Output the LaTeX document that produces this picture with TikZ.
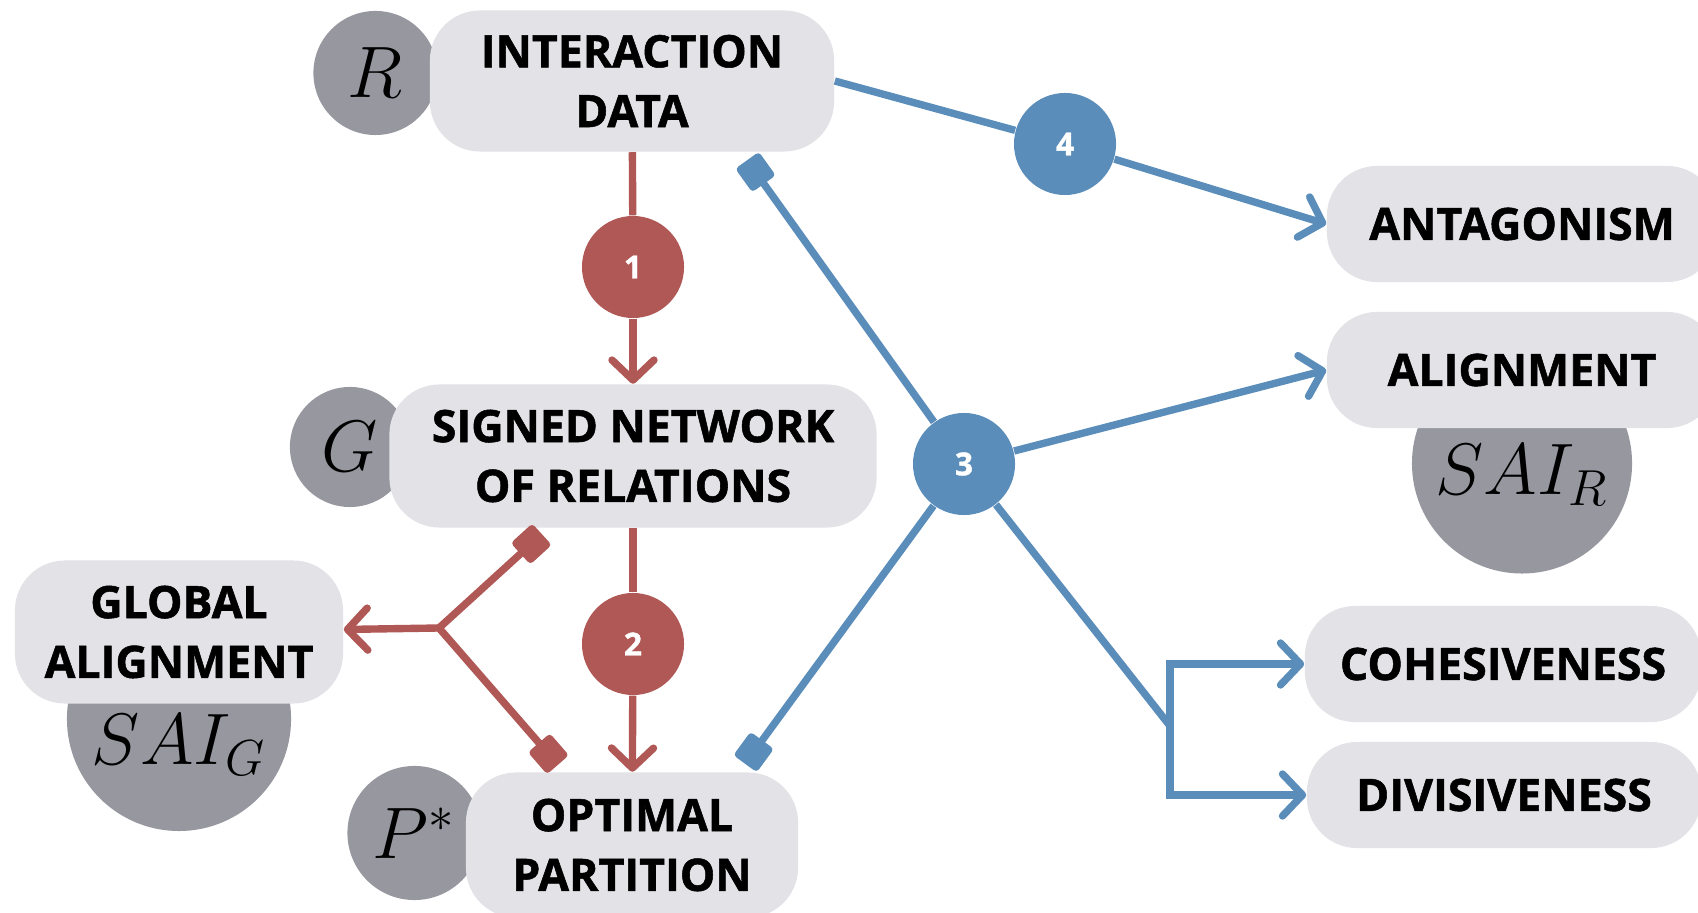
\documentclass[tikz,border=0pt]{standalone}
\usepackage{fontspec}
\setmainfont{Open Sans}[BoldFeatures={FakeBold=1.2}]
\usepackage{xcolor}
\usepackage{tikz}
\usetikzlibrary{arrows.meta, positioning, calc, backgrounds}
\definecolor{boxgray}{RGB}{226,226,231}
\definecolor{discgray}{RGB}{151,151,160}
\definecolor{stepred}{RGB}{176,88,86}
\definecolor{stepblue}{RGB}{91,141,186}
\tikzset{
  termbox/.style={fill=boxgray, rounded corners=0.5cm, align=center, inner sep=0pt,
    font=\fontsize{12.7}{17}\selectfont\bfseries},
  mathdisc/.style={circle, fill=discgray, inner sep=0pt, font=\fontsize{21}{24}\selectfont},
  redstep/.style={circle, fill=stepred, minimum size=1.02cm, inner sep=0pt, text=white,
    font=\fontsize{9}{10}\selectfont\bfseries},
  bluestep/.style={redstep, fill=stepblue},
  redline/.style={draw=stepred, line width=2.1pt},
  blueline/.style={draw=stepblue, line width=2.1pt},
  redarrow/.style={redline, -{Straight Barb[length=2mm, width=4.2mm, round]}},
  bluearrow/.style={blueline, -{Straight Barb[length=2mm, width=4.2mm, round]}},
  marker/.style={{Square[length=2.9mm, width=2.9mm, round]}-}
}

\begin{document}
\begin{tikzpicture}[x=0.01cm, y=-0.01cm]
      \useasboundingbox (0,0) rectangle (1698,913);

      % === Main chain ===
      \node[termbox, minimum width=4.04cm, minimum height=1.41cm] (data) at (632,81) {INTERACTION\\DATA};
      \node[termbox, minimum width=4.87cm, minimum height=1.43cm] (signed) at (633,456) {SIGNED NETWORK\\OF RELATIONS};
      \node[termbox, minimum width=3.32cm, minimum height=1.45cm] (optimal) at (632,845) {OPTIMAL\\PARTITION};
      \node[termbox, minimum width=3.28cm, minimum height=1.43cm] (global) at (179,632) {GLOBAL\\ALIGNMENT};

      \node[redstep] (s1) at (633,267) {1};
      \node[redstep] (s2) at (633,644) {2};
      \node[bluestep] (s3) at (964,464) {3};
      \node[bluestep] (s4) at (1065,144) {4};

      % === Outcomes ===
      \node[termbox, minimum width=3.9cm, minimum height=1.16cm] (antag) at (1522,224) {ANTAGONISM};
      \node[termbox, minimum width=3.9cm, minimum height=1.16cm] (alignr) at (1522,370) {ALIGNMENT};
      \node[termbox, minimum width=3.96cm, minimum height=1.16cm] (cohes) at (1503,664) {COHESIVENESS};
      \node[termbox, minimum width=3.94cm, minimum height=1.06cm] (divis) at (1504,795) {DIVISIVENESS};

      % symbols sit behind the boxes
      \begin{scope}[on background layer]
        \node[mathdisc, minimum size=1.24cm, left=-0.09cm of data, yshift=0.08cm] (rdisc) {$R$};
        \node[mathdisc, minimum size=1.2cm, left=-0.22cm of signed, yshift=0.09cm] (gdisc) {$G$};
        \node[mathdisc, minimum size=1.34cm, left=-0.17cm of optimal, yshift=0.12cm] (pdisc) {$P^{*}$};
        \node[mathdisc, minimum size=2.24cm, below=-0.98cm of global,
              label={[font=\fontsize{21}{24}\selectfont, yshift=-0.26cm]center:$SAI_G$}] (saig) {};
        \node[mathdisc, minimum size=2.2cm, below=-0.76cm of alignr,
              label={[font=\fontsize{21}{24}\selectfont, yshift=-0.12cm]center:$SAI_R$}] (sair) {};
      \end{scope}

      % === Steps 1 and 2 ===
      \draw[redline] (data) -- (s1);
      \draw[redarrow] (s1) -- (signed);
      \draw[redline] (signed) -- (s2);
      \draw[redarrow] (s2) -- (optimal);

      \coordinate (gsplit) at (439,628);
      \draw[redline, marker] ([xshift=-0.91cm, yshift=-0.06cm]signed.south) -- (gsplit);
      \draw[redline, marker] ([xshift=-0.74cm, yshift=0.07cm]optimal.north) -- (gsplit);
      \draw[redarrow] (gsplit) -- (global);

      % === Steps 3 and 4 ===
      \draw[blueline] (data.east) -- (s4);
      \draw[bluearrow] (s4) -- (antag.west);

      \draw[blueline, marker] ([xshift=1.15cm, yshift=-0.08cm]data.south) -- (s3);
      \draw[blueline, marker] ([xshift=1.13cm, yshift=0.08cm]optimal.north) -- (s3);
      \draw[bluearrow] (s3) -- (alignr.west);

      \coordinate (cdsplit) at (1170,726);
      \draw[blueline] (s3) -- (cdsplit);
      \draw[bluearrow] (cdsplit) |- (cohes.west);
      \draw[bluearrow] (cdsplit) |- (divis.west);
\end{tikzpicture}
\end{document}
